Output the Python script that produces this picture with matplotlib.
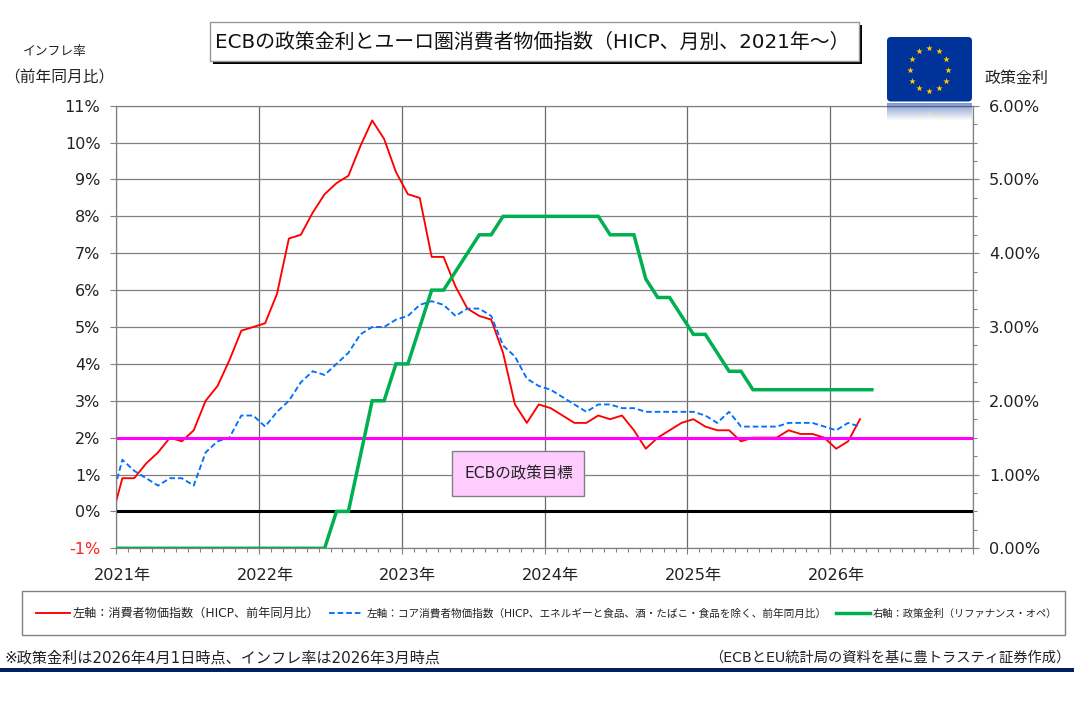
import numpy as np
import matplotlib
matplotlib.use("Agg")
import matplotlib.pyplot as plt
from matplotlib.patches import Rectangle, FancyBboxPatch
from matplotlib.ticker import MultipleLocator, FuncFormatter
from matplotlib.transforms import ScaledTranslation

plt.rcParams['font.family'] = ['DejaVu Sans', 'Noto Sans CJK JP']

W, H = 1074, 707

# Monthly values starting Dec 2020 (the first point falls just left of the axis and is clipped)
hicp = [-0.3, 0.9, 0.9, 1.3, 1.6, 2.0, 1.9, 2.2, 3.0, 3.4, 4.1, 4.9, 5.0,
        5.1, 5.9, 7.4, 7.5, 8.1, 8.6, 8.9, 9.1, 9.9, 10.6, 10.1, 9.2,
        8.6, 8.5, 6.9, 6.9, 6.1, 5.5, 5.3, 5.2, 4.3, 2.9, 2.4, 2.9,
        2.8, 2.6, 2.4, 2.4, 2.6, 2.5, 2.6, 2.2, 1.7, 2.0, 2.2, 2.4,
        2.5, 2.3, 2.2, 2.2, 1.9, 2.0, 2.0, 2.0, 2.2, 2.1, 2.1, 2.0,
        1.7, 1.9, 2.5]
core = [0.2, 1.4, 1.1, 0.9, 0.7, 0.9, 0.9, 0.7, 1.6, 1.9, 2.0, 2.6, 2.6,
        2.3, 2.7, 3.0, 3.5, 3.8, 3.7, 4.0, 4.3, 4.8, 5.0, 5.0, 5.2,
        5.3, 5.6, 5.7, 5.6, 5.3, 5.5, 5.5, 5.3, 4.5, 4.2, 3.6, 3.4,
        3.3, 3.1, 2.9, 2.7, 2.9, 2.9, 2.8, 2.8, 2.7, 2.7, 2.7, 2.7,
        2.7, 2.6, 2.4, 2.7, 2.3, 2.3, 2.3, 2.3, 2.4, 2.4, 2.4, 2.3,
        2.2, 2.4, 2.3]
policy = [0.0] * 19 + [0.5, 0.5, 1.25, 2.0, 2.0, 2.5,
          2.5, 3.0, 3.5, 3.5, 3.75, 4.0, 4.25, 4.25, 4.5, 4.5, 4.5, 4.5,
          4.5, 4.5, 4.5, 4.5, 4.5, 4.25, 4.25, 4.25, 3.65, 3.4, 3.4, 3.15,
          2.9, 2.9, 2.65, 2.4, 2.4, 2.15, 2.15, 2.15, 2.15, 2.15, 2.15, 2.15,
          2.15, 2.15, 2.15, 2.15]
target_x = [0, 72]
target = [2, 2]
zero = [0, 0]
years = ['2021年', '2022年', '2023年', '2024年', '2025年', '2026年']
left_ticks = list(range(-1, 12))
right_ticks = list(range(0, 7))

x_h = np.arange(len(hicp)) - 0.5
x_c = np.arange(len(core)) - 0.5
x_p = np.arange(len(policy)) - 0.5

TXT = '#222222'
GRID = '#808080'

fig = plt.figure(figsize=(W / 100, H / 100), dpi=100)
L, R, T, B = 116.4, 973.0, 105.7, 548.3
ax = fig.add_axes([L / W, 1 - B / H, (R - L) / W, (B - T) / H])
ax.set_xlim(0, 72)
ax.set_ylim(-1, 11)
for s in ax.spines.values():
    s.set_color(GRID)
    s.set_linewidth(0.8)

ax.set_axisbelow(True)
ax.yaxis.grid(True, color=GRID, lw=0.9)
ax.xaxis.grid(True, which='major', color='#6a6a6a', lw=0.9)
ax.set_yticks(left_ticks)
ax.set_yticklabels([f'{v}%' for v in left_ticks], fontsize=11.5, color=TXT)
ax.get_yticklabels()[0].set_color('#ff2020')
ax.set_xticks(np.arange(0, 73, 12))
ax.set_xticklabels(years + [''], fontsize=11.6, color=TXT)
ax.xaxis.set_minor_locator(MultipleLocator(1))
ax.tick_params(axis='y', length=4.3, width=0.8, color=GRID, pad=7.2)
ax.tick_params(axis='x', which='major', length=4.3, width=0.8, color=GRID, pad=10.0)
ax.tick_params(axis='x', which='minor', length=3.2, width=0.8, color=GRID)
shift = ScaledTranslation(6 / 100, 0, fig.dpi_scale_trans)
for lab in ax.get_xticklabels():
    lab.set_transform(lab.get_transform() + shift)

l1, = ax.plot(x_h, hicp, color='#ff0000', lw=1.35, zorder=3,
              label='左軸：消費者物価指数（HICP、前年同月比）')
l2, = ax.plot(x_c, core, color='#0070ff', lw=1.35, ls=(0, (3, 1.6)), zorder=3,
              label='左軸：コア消費者物価指数（HICP、エネルギーと食品、酒・たばこ・食品を除く、前年同月比）')
ax.plot(target_x, target, color='#ff00ff', lw=2.2, zorder=4, solid_capstyle='butt')
ax.plot(target_x, zero, color='#000000', lw=2.2, zorder=4, solid_capstyle='butt')

ax2 = ax.twinx()
ax2.set_ylim(0, 6)
ax2.set_yticks(right_ticks)
ax2.yaxis.set_major_formatter(FuncFormatter(lambda v, _: f'{v:.2f}%'))
ax2.yaxis.set_minor_locator(MultipleLocator(0.25))
ax2.tick_params(axis='y', which='major', length=4.3, width=0.8, color=GRID, pad=7.2,
                labelsize=11.6, labelcolor=TXT)
ax2.tick_params(axis='y', which='minor', length=3.2, width=0.8, color=GRID)
for s in ax2.spines.values():
    s.set_color(GRID)
    s.set_linewidth(0.8)
l3, = ax2.plot(x_p, policy, color='#00b050', lw=2.5, zorder=5,
               solid_joinstyle='miter', label='右軸：政策金利（リファナンス・オペ）')

leg = ax2.legend(handles=[l1, l2, l3], ncol=3, loc='center left',
                 bbox_to_anchor=(35.5 / W, 1 - 613.2 / H), bbox_transform=fig.transFigure,
                 fontsize=7.9, frameon=False, borderpad=0, borderaxespad=0,
                 handlelength=3.1, handletextpad=0.3, columnspacing=0.85,
                 labelcolor=TXT)
for t, fs in zip(leg.get_texts(), [8.7, 7.63, 7.42]):
    t.set_fontsize(fs)
leg.set_zorder(10)

# Overlay in pixel coordinates for the boxes, flag and captions
ov = fig.add_axes([0, 0, 1, 1], zorder=20)
ov.set_xlim(0, W)
ov.set_ylim(H, 0)
ov.axis('off')
ov.patch.set_alpha(0)

# legend frame
ov.add_patch(Rectangle((22, 591.3), 1043.4, 43.7, fc='none', ec=GRID, lw=1))

# title box with hard shadow
ov.add_patch(Rectangle((213.4, 25), 648.4, 39, fc='black', ec='none'))
ov.add_patch(Rectangle((210.4, 22), 648.4, 39, fc='white', ec='#999999', lw=1))
ov.text(215, 42, 'ECBの政策金利とユーロ圏消費者物価指数（HICP、月別、2021年～）',
        fontsize=14.35, color='#111111', va='center', ha='left')

# axis captions
ov.text(55, 51, 'インフレ率', fontsize=9.2, color=TXT, ha='center', va='center')
ov.text(59, 78, '（前年同月比）', fontsize=11.3, color=TXT, ha='center', va='center')
ov.text(1017, 78, '政策金利', fontsize=11.5, color=TXT, ha='center', va='center')

# EU flag with reflection
grad = np.zeros((20, 2, 4))
grad[..., :3] = np.array([0x00, 0x33, 0x99]) / 255
grad[..., 3] = np.linspace(0.5, 0, 20)[:, None]
ov.imshow(grad, extent=(887, 972, 121, 103), aspect='auto', zorder=1, interpolation='bilinear')
ov.set_xlim(0, W)
ov.set_ylim(H, 0)
ov.add_patch(FancyBboxPatch((890, 40), 79, 58.5, boxstyle='round,pad=3,rounding_size=4',
                            fc='#003399', ec='none', zorder=2))
ang = np.deg2rad(np.arange(0, 360, 30))
ov.scatter(929 + 19.2 * np.cos(ang), 69.7 + 21.6 * np.sin(ang), marker='*', s=24,
           color='#ffcc00', linewidths=0, zorder=3)
ov.scatter([919.5, 929, 938.5], [116, 114, 116], marker='*', s=18, color='#ffe98a',
           alpha=0.5, linewidths=0, zorder=3)

# target annotation box
ov.add_patch(Rectangle((452, 450.7), 131.6, 45.6, fc='#ffccff', ec='#808080', lw=1, zorder=5))
ov.text(518.5, 474, 'ECBの政策目標', fontsize=11.2, color=TXT, ha='center', va='center', zorder=6)

# footer
ov.text(4, 658, '※政策金利は2026年4月1日時点、インフレ率は2026年3月時点', fontsize=10.9,
        color=TXT, ha='left', va='center')
ov.text(1070, 658, '（ECBとEU統計局の資料を基に豊トラスティ証券作成）', fontsize=10.25,
        color=TXT, ha='right', va='center')
ov.add_patch(Rectangle((0, 668), W, 3.6, fc='#002060', ec='none'))

fig.savefig('out.png', dpi=100, facecolor='white')
